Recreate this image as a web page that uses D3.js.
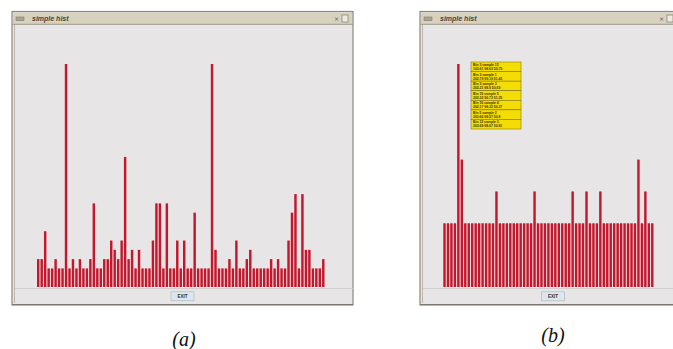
<!DOCTYPE html>
<html>
<head>
<meta charset="utf-8">
<script src="https://cdn.jsdelivr.net/npm/d3@7"></script>
<style>
  body { margin: 0; background: #fff; }
  svg { display: block; }
</style>
</head>
<body>
<svg id="fig" width="673" height="349"></svg>
<script>
// bin counts
var binsA = [3,3,6,2,2,3,2,2,24,2, 3,2,3,2,2,3,9,2,2,3, 3,5,4,3,5,14,3,4,2,4,
             2,2,2,5,9,9,2,9,2,2, 5,2,5,2,2,8,2,2,2,2, 24,4,2,2,2,3,2,5,2,2,
             3,4,2,2,2,2,2,3,2,3, 2,2,5,8,10,2,10,4,4,2, 2,2,3];
var binsB = [2,2,2,2,7,4,2,2,2,2, 2,2,2,2,2,3,2,2,2,2, 2,2,2,2,2,2,3,2,2,2,
             2,2,2,2,2,2,2,3,2,2, 2,3,2,2,2,3,2,2,2,2, 2,2,2,2,2,2,4,2,3,2, 2];
var tipHead = ["Bin 3 sample 15","Bin 3 sample 1","Bin 3 sample 3","Bin 15 sample 5",
               "Bin 16 sample 4","Bin 5 sample 2","Bin 12 sample 3"];
var tipVals = ["103.61 98.63 50.75","202.79 99.19 51.43","202.21 98.9 50.69","202.32 96.73 51.25",
               "202.17 98.32 50.27","203.66 98.57 50.8","203.69 98.67 50.81"];
var winTitle = "simple hist";
var buttonText = "EXIT";
var captions = ["(a)", "(b)"];

var svg = d3.select("#fig");
var barColor = "#c3172d";

function drawWindow(w) {
  var g = svg.append("g");
  // frame + body
  g.append("rect").attr("x", w.x).attr("y", 11.5).attr("width", w.w).attr("height", 293.5)
    .attr("fill", "#e7e5e5").attr("stroke", "#8c887c").attr("stroke-width", 1.2);
  g.append("line").attr("x1", w.x + 2.5).attr("x2", w.x + 2.5).attr("y1", 24).attr("y2", 303)
    .attr("stroke", "#b9b5aa").attr("stroke-width", 1);
  // title bar
  g.append("rect").attr("x", w.x + 1).attr("y", 12.5).attr("width", w.w - 2).attr("height", 11.5)
    .attr("fill", "#d7d1bd");
  g.append("line").attr("x1", w.x).attr("x2", w.x + w.w).attr("y1", 24.3).attr("y2", 24.3)
    .attr("stroke", "#9d988a").attr("stroke-width", 1);
  g.append("rect").attr("x", w.x + 4).attr("y", 17).attr("width", 8).attr("height", 3.5)
    .attr("fill", "#a9a496").attr("stroke", "#6f6b60").attr("stroke-width", 0.5);
  g.append("text").attr("x", w.x + 20).attr("y", 21)
    .attr("font-family", "Liberation Sans, Arial, sans-serif").attr("font-size", 7)
    .attr("font-style", "italic").attr("font-weight", "bold").attr("fill", "#4a4740")
    .text(winTitle);
  g.append("text").attr("x", w.closeX).attr("y", 21)
    .attr("font-family", "DejaVu Sans, sans-serif").attr("font-size", 6).attr("fill", "#555")
    .text("\u00d7");
  g.append("rect").attr("x", w.closeX + 8).attr("y", 15).attr("width", 6).attr("height", 7)
    .attr("fill", "#eeeae0").attr("stroke", "#6f6b60").attr("stroke-width", 0.6);
  // bottom strip with button
  g.append("line").attr("x1", w.x + 3).attr("x2", w.x + w.w).attr("y1", 288.6).attr("y2", 288.6)
    .attr("stroke", "#cfcdcd").attr("stroke-width", 1);
  g.append("rect").attr("x", w.bx).attr("y", 291.8).attr("width", 23).attr("height", 9)
    .attr("fill", "#dde6ec").attr("stroke", "#a9b4bb").attr("stroke-width", 0.6);
  g.append("text").attr("x", w.bx + 11.5).attr("y", 298.2).attr("text-anchor", "middle")
    .attr("font-family", "Liberation Sans, Arial, sans-serif").attr("font-size", 4.6)
    .attr("font-weight", "bold").attr("fill", "#333").text(buttonText);
  g.append("line").attr("x1", w.x).attr("x2", w.x + w.w).attr("y1", 304.5).attr("y2", 304.5)
    .attr("stroke", "#7d796f").attr("stroke-width", 1.2);
  return g;
}

function drawHist(g, data, x0, x1) {
  var x = d3.scaleBand().domain(d3.range(data.length)).range([x0, x1])
    .paddingInner(0.3).paddingOuter(0);
  var y = d3.scaleLinear().domain([0, d3.max(data)]).range([287, 64]);
  g.selectAll("rect.bar").data(data).enter().append("rect")
    .attr("class", "bar")
    .attr("x", function(d, i) { return x(i); })
    .attr("width", x.bandwidth())
    .attr("y", function(d) { return y(d); })
    .attr("height", function(d) { return y(0) - y(d); })
    .attr("fill", barColor);
}

var gA = drawWindow({x: 12, w: 341, closeX: 334, bx: 171});
drawHist(gA, binsA, 37, 324.5);

var gB = drawWindow({x: 420, w: 262, closeX: 659, bx: 541.5});
drawHist(gB, binsB, 443.3, 653.5);

// hover box in (b)
var tip = gB.append("g").attr("transform", "translate(471,62)");
var rowH = 67 / tipHead.length;
tip.selectAll("rect").data(tipHead).enter().append("rect")
  .attr("x", 0).attr("y", function(d, i) { return i * rowH; })
  .attr("width", 50).attr("height", rowH)
  .attr("fill", "#f4dc05").attr("stroke", "#6e6420").attr("stroke-width", 0.5);
tip.selectAll("text.h").data(tipHead).enter().append("text").attr("class", "h")
  .attr("x", 2).attr("y", function(d, i) { return i * rowH + 4; })
  .attr("font-family", "Liberation Sans, Arial, sans-serif").attr("font-size", 3.4)
  .attr("font-weight", "bold").attr("fill", "#3a3510").text(function(d) { return d; });
tip.selectAll("text.v").data(tipVals).enter().append("text").attr("class", "v")
  .attr("x", 2).attr("y", function(d, i) { return i * rowH + 8; })
  .attr("font-family", "Liberation Sans, Arial, sans-serif").attr("font-size", 3.4)
  .attr("font-weight", "bold").attr("fill", "#3a3510").text(function(d) { return d; });

// panel captions under the windows
svg.append("g").selectAll("text.cap").data(captions).enter().append("text")
  .attr("x", function(d, i) { return i ? 553 : 184; })
  .attr("y", function(d, i) { return i ? 342 : 346; })
  .attr("text-anchor", "middle")
  .attr("font-family", "Liberation Serif, Times New Roman, serif")
  .attr("font-style", "italic").attr("font-size", 20).attr("fill", "#111")
  .text(function(d) { return d; });
</script>
</body>
</html>
